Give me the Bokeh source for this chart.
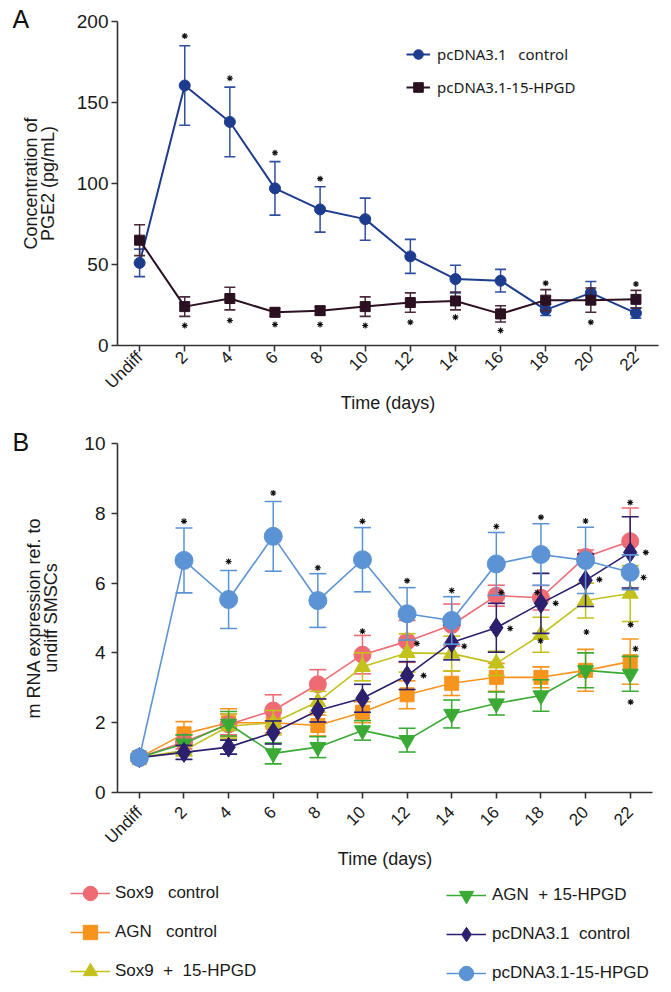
import math
from bokeh.plotting import figure
from bokeh.models import ColumnDataSource, FixedTicker, Legend, LegendItem, Title, Range1d
from bokeh.layouts import column
from bokeh.embed import file_html
from bokeh.resources import INLINE

# ---------------- data ----------------
x_labels = ["Undiff", "2", "4", "6", "8", "10", "12", "14", "16", "18", "20", "22"]
x_idx = list(range(len(x_labels)))

# Panel A: PGE2 concentration (pg/mL)
a_ctrl = [51, 160.5, 138, 97, 84, 78, 55, 41, 40, 22, 32.5, 20]
a_ctrl_err = [8.5, 24.5, 21.5, 16.5, 14, 13, 10.5, 8.5, 7, 3.5, 7, 3.2]
a_hpgd = [65, 24, 29, 20.5, 21.5, 24, 26.5, 27.5, 19.5, 28, 28, 28.5]
a_hpgd_err = [9.5, 6, 7, 2.5, 2.5, 6, 6, 5.5, 5, 6.5, 7.5, 5.5]
a_star_x = [1, 2, 3, 4, 1, 2, 3, 4, 5, 6, 7, 8, 10, 9, 11]
a_star_y = [191, 165, 119, 103, 12.3, 15.4, 13, 13, 12.3, 14.4, 17.5, 9.3, 14.4, 38.5, 38]

# Panel B: mRNA expression relative to undiff SMSCs
b_sox9_ctrl = [1.0, 1.45, 1.95, 2.35, 3.1, 3.95, 4.33, 4.8, 5.64, 5.58, 6.75, 7.2]
b_sox9_ctrl_err = [0.1, 0.2, 0.3, 0.45, 0.42, 0.55, 0.6, 0.6, 0.3, 0.35, 0.2, 0.95]
b_agn_ctrl = [1.0, 1.68, 2.0, 2.0, 1.92, 2.3, 2.8, 3.13, 3.3, 3.3, 3.5, 3.75]
b_agn_ctrl_err = [0.1, 0.35, 0.4, 0.3, 0.3, 0.3, 0.4, 0.35, 0.4, 0.3, 0.6, 0.65]
b_sox9_hpgd = [1.0, 1.2, 1.9, 2.0, 2.6, 3.6, 4.0, 3.98, 3.7, 4.52, 5.5, 5.7]
b_sox9_hpgd_err = [0.1, 0.15, 0.35, 0.35, 0.3, 0.4, 0.55, 0.5, 0.35, 0.5, 0.5, 0.8]
b_agn_hpgd = [1.0, 1.4, 1.97, 1.12, 1.3, 1.78, 1.5, 2.25, 2.55, 2.78, 3.5, 3.4]
b_agn_hpgd_err = [0.1, 0.25, 0.35, 0.3, 0.3, 0.28, 0.34, 0.4, 0.33, 0.45, 0.5, 0.5]
b_pc_ctrl = [1.0, 1.15, 1.3, 1.72, 2.35, 2.7, 3.35, 4.3, 4.72, 5.42, 6.08, 6.88]
b_pc_ctrl_err = [0.1, 0.2, 0.2, 0.33, 0.33, 0.4, 0.4, 0.5, 0.7, 0.86, 0.75, 1.02]
b_pc_hpgd = [1.0, 6.65, 5.53, 7.34, 5.5, 6.67, 5.12, 4.93, 6.55, 6.82, 6.65, 6.31]
b_pc_hpgd_err = [0.1, 0.93, 0.83, 1.0, 0.77, 0.92, 0.75, 0.68, 0.9, 0.88, 0.95, 0.5]
b_star_x = [1, 2, 3, 4, 5, 6, 7, 8, 9, 10, 11,
            5, 6.22, 6.37, 7.28, 8.11, 8.31, 8.92, 9.33, 8.99, 10.31, 10.02,
            11.35, 11.3, 11.01, 11.12, 11.01]
b_star_y = [7.77, 6.62, 8.58, 6.44, 7.77, 6.07, 5.79, 7.62, 7.89, 7.78, 8.31,
            4.62, 4.27, 3.35, 4.19, 5.73, 4.7, 5.73, 5.42, 4.35, 6.1, 4.6,
            6.88, 6.16, 4.81, 4.12, 2.59]

FONT = "Liberation Sans"
AX = "#333333"


def no_align(p):
    if "frame_align" in p.properties():
        p.frame_align = False


def safe_set(obj, attr, val, fallback):
    try:
        setattr(obj, attr, val)
    except Exception:
        setattr(obj, attr, fallback)


def style(p, yticks, ystand, ylab_stand, xstand, xlab_stand):
    p.xaxis.ticker = FixedTicker(ticks=x_idx)
    p.xaxis.major_label_overrides = {i: l for i, l in enumerate(x_labels)}
    p.xaxis.major_label_orientation = math.pi / 4
    p.yaxis.ticker = FixedTicker(ticks=yticks)
    p.xgrid.visible = False
    p.ygrid.visible = False
    p.outline_line_color = None
    for ax in (p.xaxis, p.yaxis):
        ax.axis_line_color = AX
        ax.axis_line_width = 1.6
        ax.major_tick_line_color = AX
        ax.major_tick_line_width = 1.6
        ax.major_tick_in = 0
        ax.major_tick_out = 6
        ax.minor_tick_line_color = None
        ax.major_label_text_font = FONT
        ax.major_label_text_color = "#1a1a1a"
        ax.axis_label_text_font = FONT
        ax.axis_label_text_font_style = "normal"
        ax.axis_label_text_color = "#1a1a1a"
        ax.axis_label_text_font_size = "18px"
        ax.axis_label_text_line_height = 0.85
    p.xaxis.major_label_text_font_size = "17px"
    p.yaxis.major_label_text_font_size = "19px"
    safe_set(p.xaxis[0], "major_label_standoff", xstand, 0)
    p.yaxis.major_label_standoff = ystand
    p.xaxis.axis_label = "Time (days)"
    safe_set(p.xaxis[0], "axis_label_standoff", xlab_stand, 0)
    p.yaxis.axis_label_standoff = ylab_stand


def letter(p, text, standoff, spacer_size, spacer_standoff):
    t = Title(text=text, align="left", offset=-105, text_font=FONT, text_font_size="25px",
              text_font_style="normal", text_color="#111111")
    safe_set(t, "standoff", standoff, 0)
    p.add_layout(t, "above")
    sp = Title(text=" ", text_font=FONT, text_font_size=spacer_size, text_font_style="normal")
    safe_set(sp, "standoff", spacer_standoff, 0)
    p.add_layout(sp, "above")


def series(p, y, err, color, marker, msize, cap, lw, ecolor=None):
    src = ColumnDataSource(dict(x=x_idx, y=y,
                                lo=[a - b for a, b in zip(y, err)],
                                hi=[a + b for a, b in zip(y, err)]))
    ec = ecolor or color
    p.segment(x0="x", y0="lo", x1="x", y1="hi", source=src, line_color=ec, line_width=1.5)
    p.scatter(x="x", y="hi", source=src, marker="dash", size=cap, line_color=ec, line_width=1.6)
    p.scatter(x="x", y="lo", source=src, marker="dash", size=cap, line_color=ec, line_width=1.6)
    ln = p.line(x="x", y="y", source=src, line_color=color, line_width=lw)
    mk = p.scatter(x="x", y="y", source=src, marker=marker, size=msize,
                   fill_color=color, line_color=color)
    return ln, mk


# ---------------- Panel A ----------------
pA = figure(width=671, height=428, x_range=Range1d(-0.49, 11.5), y_range=Range1d(0, 200),
            output_backend="svg", toolbar_location=None, title=None,
            min_border_left=117, min_border_right=13, min_border_top=21, min_border_bottom=83)
no_align(pA)
style(pA, [0, 50, 100, 150, 200], 3, 16, 3, -9)
pA.yaxis.axis_label = "Concentration of\nPGE2 (pg/mL)"

BLUE_A = "#1e3c8e"
DARK_A = "#2b1021"
la1, ma1 = series(pA, a_ctrl, a_ctrl_err, BLUE_A, "circle", 11, 11, 2, ecolor="#2f4f9e")
la2, ma2 = series(pA, a_hpgd, a_hpgd_err, DARK_A, "square", 10, 11, 2, ecolor="#4a2a3a")
pA.scatter(x=a_star_x, y=a_star_y, marker="asterisk", size=6, line_color="#111111", line_width=1.1)

legA = Legend(items=[LegendItem(label="pcDNA3.1   control", renderers=[la1, ma1]),
                     LegendItem(label="pcDNA3.1-15-HPGD", renderers=[la2, ma2])],
              location=(289, 245), padding=0, margin=0, spacing=7,
              label_height=26, glyph_height=26, glyph_width=24, label_standoff=7,
              label_text_font="Noto Sans", label_text_font_size="15px",
              label_text_color="#1a1a1a",
              border_line_color=None, background_fill_alpha=0)
pA.add_layout(legA)
letter(pA, "A", -22.6, "10px", 0)

# ---------------- Panel B ----------------
pB = figure(width=671, height=447, x_range=Range1d(-0.49, 11.5), y_range=Range1d(0, 10),
            output_backend="svg", toolbar_location=None, title=None,
            min_border_left=117, min_border_right=19, min_border_top=15, min_border_bottom=83)
no_align(pB)
style(pB, [0, 2, 4, 6, 8, 10], 6, 20, 11, -8)
pB.yaxis.axis_label = "m RNA expression ref. to\nundiff SMSCs"

SALMON = "#ee6b74"
ORANGE = "#f7941d"
OLIVE = "#c3c21c"
GREEN = "#3aaa35"
NAVY = "#2b1f6e"
LBLUE = "#5b93d4"

specs = [
    ("AGN   control", b_agn_ctrl, b_agn_ctrl_err, ORANGE, "square", 14),
    ("Sox9   control", b_sox9_ctrl, b_sox9_ctrl_err, SALMON, "circle", 17),
    ("Sox9  +  15-HPGD", b_sox9_hpgd, b_sox9_hpgd_err, OLIVE, "triangle", 16),
    ("AGN  + 15-HPGD", b_agn_hpgd, b_agn_hpgd_err, GREEN, "inverted_triangle", 16),
    ("pcDNA3.1  control", b_pc_ctrl, b_pc_ctrl_err, NAVY, "diamond", 20),
    ("pcDNA3.1-15-HPGD", b_pc_hpgd, b_pc_hpgd_err, LBLUE, "circle", 18),
]
for name, y, e, c, m, s in specs:
    series(pB, y, e, c, m, s, 17, 1.6)
pB.scatter(x=b_star_x, y=b_star_y, marker="asterisk", size=6, line_color="#111111", line_width=1.1)
letter(pB, "B", -24.6, "8px", -1.6)

# ---------------- Legend for panel B ----------------
pL = figure(width=671, height=117, x_range=Range1d(0, 1), y_range=Range1d(0, 1),
            output_backend="svg", toolbar_location=None, title=None,
            x_axis_type=None, y_axis_type=None,
            min_border=0, min_border_left=0, min_border_right=0,
            min_border_top=0, min_border_bottom=0)
no_align(pL)
pL.xgrid.visible = False
pL.ygrid.visible = False
pL.outline_line_color = None
items = {}
for name, y, e, c, m, s in specs:
    src = ColumnDataSource(dict(x=[-5.0], y=[-5.0]))
    ln = pL.line(x="x", y="y", source=src, line_color=c, line_width=1.6)
    mk = pL.scatter(x="x", y="y", source=src, marker=m, size=s, fill_color=c, line_color=c)
    items[name] = LegendItem(label=name, renderers=[ln, mk])

common = dict(padding=0, margin=0, spacing=3, label_height=36, glyph_height=36,
              glyph_width=40, label_text_font=FONT, label_text_font_size="17px",
              label_text_color="#1a1a1a", border_line_color=None, background_fill_alpha=0)
legL = Legend(items=[items["Sox9   control"], items["AGN   control"], items["Sox9  +  15-HPGD"]],
              location=(70, 3), label_standoff=5, **common)
legR = Legend(items=[items["AGN  + 15-HPGD"], items["pcDNA3.1  control"], items["pcDNA3.1-15-HPGD"]],
              location=(446, 1), label_standoff=6, **common)
pL.add_layout(legL)
pL.add_layout(legR)

layout = column(pA, pB, pL, spacing=0)
open("out.html", "w").write(file_html(layout, INLINE))
